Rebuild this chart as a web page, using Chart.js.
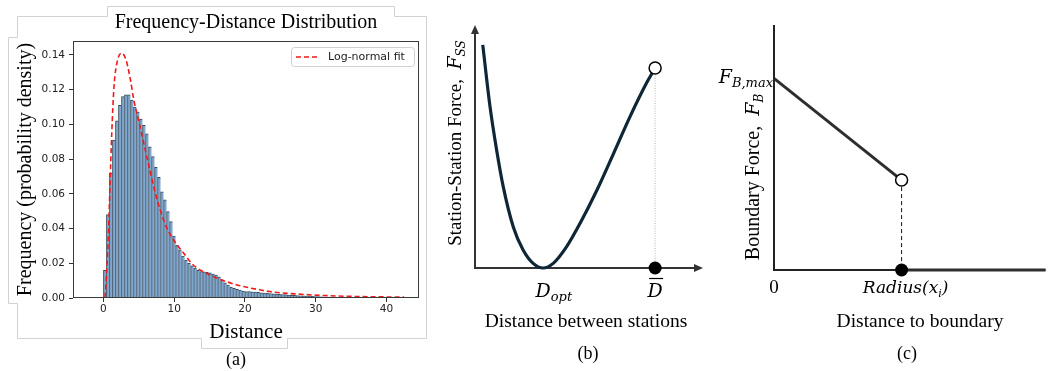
<!DOCTYPE html>
<html>
<head>
<meta charset="utf-8">
<script src="https://cdn.jsdelivr.net/npm/chart.js@4.4.0/dist/chart.umd.min.js"></script>
<style>
  html, body { margin: 0; padding: 0; background: #fff; }
  #wrap { position: relative; width: 1053px; height: 371px; overflow: hidden; }
  #wrap canvas { position: absolute; top: 0; }
  #frame { position: absolute; left: 0; top: 0; }
  .cap { position: absolute; font: 18px "Liberation Serif", serif; color: #000; transform: translate(-50%, -50%); }
</style>
</head>
<body>
<div id="wrap">
  <svg id="frame" width="440" height="371">
    <polyline points="426.5,16.5 394.5,16.5 394.5,6.5 107.5,6.5 107.5,16.5 17.5,16.5 17.5,37.5 8.5,37.5 8.5,303.5 17.5,303.5 17.5,338.5 201.5,338.5 201.5,348.5 287.5,348.5 287.5,338.5 426.5,338.5 426.5,16.5"
      fill="none" stroke="#d2d2d2" stroke-width="1"/>
  </svg>
  <canvas id="chartA" width="486" height="350" style="left:0px"></canvas>
  <canvas id="chartB" width="290" height="371" style="left:430px"></canvas>
  <canvas id="chartC" width="353" height="371" style="left:700px"></canvas>
  <div class="cap" style="left:236px;top:359px">(a)</div>
  <div class="cap" style="left:588px;top:353px">(b)</div>
  <div class="cap" style="left:907px;top:353px">(c)</div>
</div>
<script>
// ---- (a) histogram of distances, bins of width 0.425 starting at 0
const histBinWidth = 0.425;
const histHeights = [
  0.016, 0.048, 0.072, 0.091, 0.102, 0.111, 0.116, 0.117, 0.117, 0.114,
  0.110, 0.107, 0.103, 0.0995, 0.0945, 0.087, 0.0814, 0.0753, 0.0695, 0.0612,
  0.0565, 0.0497, 0.044, 0.0357, 0.0305, 0.0277, 0.0242, 0.0219, 0.020, 0.0185,
  0.0172, 0.016, 0.0152, 0.015, 0.0148, 0.0145, 0.0138, 0.0132, 0.0122, 0.0104,
  0.0088, 0.0075, 0.0063, 0.0056, 0.0050, 0.0046, 0.0040, 0.0037, 0.0037, 0.0036,
  0.0034, 0.0032, 0.0030, 0.0029, 0.0027, 0.0026, 0.0024, 0.0022, 0.0021, 0.0020,
  0.0019, 0.0017, 0.0016, 0.0015, 0.0014, 0.0013, 0.0012, 0.0011, 0.0010, 0.0009,
  0.0008, 0.0008, 0.0007, 0.0006, 0.0006, 0.0005, 0.0005, 0.0004, 0.0004, 0.0004,
  0.0003, 0.0003, 0.0003, 0.0003, 0.0002, 0.0002, 0.0002, 0.0002, 0.0002, 0.0002,
  0.0001, 0.0001, 0.0001, 0.0001, 0.0001, 0.0001, 0.0001, 0.0001, 0.0001, 0.0001
];
// log-normal fit
const fitX = [-2, 0, 0.2, 0.47, 0.7, 0.94, 1.18, 1.5, 2.0, 2.6, 3.2, 3.8, 4.3, 4.9, 5.6, 6.6, 7.3, 8.0, 9.0, 10, 11.3, 12.7, 15.1, 17.4, 19.8, 22.1, 23.5, 27.3, 32, 36.7, 42.5];
const fitY = [0, 0, 0.0005, 0.016, 0.036, 0.066, 0.095, 0.122, 0.137, 0.141, 0.137, 0.126, 0.114, 0.1035, 0.091, 0.073, 0.061, 0.051, 0.040, 0.033, 0.026, 0.019, 0.0132, 0.0094, 0.0066, 0.0047, 0.0037, 0.0023, 0.0013, 0.0008, 0.0005];
const xTicksA = [0, 10, 20, 30, 40];
const yTicksA = [0, 0.02, 0.04, 0.06, 0.08, 0.10, 0.12, 0.14];

// ---- (b) station-station force vs distance (schematic)
const bCurveX = [0.34, 0.66, 0.95, 1.24, 1.68, 2.11, 2.55, 2.99, 3.43, 4.02, 4.61, 5.35, 6.08, 6.80, 7.54, 7.90];
const bCurveY = [9.18, 6.63, 4.85, 3.34, 1.69, 0.74, 0.19, 0.00, 0.19, 0.88, 1.84, 3.21, 4.72, 6.23, 7.64, 8.23];
const bOptX = 2.99;
const bEndX = 7.90, bEndY = 8.23;

// ---- (c) boundary force vs distance (schematic)
const cMaxY = 7.82;
const cRadiusX = 4.7, cJumpY = 3.67, cEndX = 10;

const serif = '"Liberation Serif", "Times New Roman", serif';
const mathFont = '"DejaVu Serif", serif';
const sans = '"DejaVu Sans", sans-serif';

function richWidth(ctx, parts) {
  let w = 0;
  for (const p of parts) { ctx.font = p.font; w += ctx.measureText(p.t).width; }
  return w;
}
// draws mixed-font text (italic / subscripts), x,y is the baseline anchor
function drawRich(ctx, parts, x, y, rot, align) {
  ctx.save();
  ctx.translate(x, y);
  ctx.rotate(rot || 0);
  const w = richWidth(ctx, parts);
  let cx = align === 'left' ? 0 : align === 'right' ? -w : -w / 2;
  ctx.textBaseline = 'alphabetic';
  ctx.textAlign = 'left';
  ctx.fillStyle = '#000';
  for (const p of parts) {
    ctx.font = p.font;
    ctx.fillText(p.t, cx, p.dy || 0);
    cx += ctx.measureText(p.t).width;
  }
  ctx.restore();
}

// ===== (a) =====
const frameBox = {
  id: 'frameBox',
  afterDatasetsDraw(chart) {
    const {ctx, chartArea: a} = chart;
    ctx.save();
    ctx.strokeStyle = '#3a3a3a';
    ctx.lineWidth = 1;
    ctx.strokeRect(Math.round(a.left) + 0.5, Math.round(a.top) + 0.5,
      Math.round(a.right - a.left) - 1, Math.round(a.bottom - a.top) - 1);

    // legend box (top right, inside axes)
    const ds = chart.data.datasets[0];
    const bw = 123, bh = 19;
    const bx = a.right - 5 - bw, by = a.top + 6;
    ctx.fillStyle = 'rgba(255,255,255,0.85)';
    ctx.strokeStyle = '#d0d0d0';
    ctx.beginPath();
    ctx.roundRect(bx + 0.5, by + 0.5, bw, bh, 3);
    ctx.fill();
    ctx.stroke();
    ctx.strokeStyle = ds.borderColor;
    ctx.lineWidth = ds.borderWidth;
    ctx.setLineDash(ds.borderDash);
    ctx.beginPath();
    ctx.moveTo(bx + 5, by + bh / 2 + 0.5);
    ctx.lineTo(bx + 26, by + bh / 2 + 0.5);
    ctx.stroke();
    ctx.setLineDash([]);
    ctx.fillStyle = '#222';
    ctx.font = '11px ' + sans;
    ctx.textBaseline = 'middle';
    ctx.fillText(ds.label, bx + 37, by + bh / 2 + 1);
    ctx.restore();
  }
};

new Chart(document.getElementById('chartA'), {
  data: {
    datasets: [
      {
        type: 'line',
        label: 'Log-normal fit',
        data: fitX.map((x, i) => ({x: x, y: fitY[i]})),
        borderColor: '#f01a1a',
        borderWidth: 1.6,
        borderDash: [5, 3],
        pointRadius: 0,
        cubicInterpolationMode: 'monotone',
        order: 0
      },
      {
        type: 'bar',
        label: 'Distance',
        data: histHeights.map((h, i) => ({x: (i + 0.5) * histBinWidth, y: h})),
        backgroundColor: '#7fa7cd',
        borderColor: '#34485c',
        borderWidth: {left: 1, top: 1, right: 0, bottom: 0},
        borderSkipped: false,
        barPercentage: 1,
        categoryPercentage: 1,
        order: 1
      }
    ]
  },
  options: {
    responsive: false,
    animation: false,
    layout: { padding: {left: 0, right: 67, top: 0, bottom: 5} },
    plugins: {
      legend: { display: false },
      tooltip: { enabled: false },
      title: {
        display: true,
        fullSize: false,
        text: 'Frequency-Distance Distribution',
        color: '#000',
        font: { family: serif, size: 20, weight: 'normal' },
        padding: { top: 11, bottom: 6 }
      }
    },
    scales: {
      x: {
        type: 'linear',
        offset: false,
        min: -4.3, max: 44.6,
        afterBuildTicks: s => { s.ticks = xTicksA.map(v => ({value: v})); },
        afterFit: s => { s.height = 47; },
        ticks: { color: '#222', font: { family: sans, size: 10.5 }, padding: 1, maxRotation: 0 },
        grid: { display: true, offset: false, drawOnChartArea: false, drawTicks: true, tickLength: 4, color: '#333' },
        border: { display: false },
        title: { display: true, text: 'Distance', color: '#000', font: { family: serif, size: 21 }, padding: { top: 0, bottom: 0 } }
      },
      y: {
        min: 0, max: 0.148,
        afterBuildTicks: s => { s.ticks = yTicksA.map(v => ({value: v})); },
        afterFit: s => { s.width = 73; },
        ticks: { color: '#222', font: { family: sans, size: 10.5 }, padding: 4, callback: v => v.toFixed(2) },
        grid: { display: true, drawOnChartArea: false, drawTicks: true, tickLength: 4, color: '#333' },
        border: { display: false },
        title: { display: true, text: 'Frequency (probability density)', color: '#000', font: { family: serif, size: 20 }, padding: { top: 14, bottom: 0 } }
      }
    }
  },
  plugins: [frameBox]
});

// ===== shared axes for (b) and (c) =====
const plainAxes = {
  id: 'plainAxes',
  beforeDatasetsDraw(chart, args, opts) {
    const {ctx, chartArea: a} = chart;
    const ah = opts.arrow ? 8 : 0;
    ctx.save();
    ctx.strokeStyle = opts.color;
    ctx.fillStyle = opts.color;
    ctx.lineWidth = opts.width;
    ctx.beginPath();
    ctx.moveTo(a.left, a.top + ah);
    ctx.lineTo(a.left, a.bottom);
    ctx.lineTo(a.right - ah, a.bottom);
    ctx.stroke();
    if (opts.arrow) {
      ctx.beginPath();
      ctx.moveTo(a.left, a.top);
      ctx.lineTo(a.left - 4, a.top + 9);
      ctx.lineTo(a.left + 4, a.top + 9);
      ctx.closePath();
      ctx.fill();
      ctx.beginPath();
      ctx.moveTo(a.right, a.bottom);
      ctx.lineTo(a.right - 9, a.bottom - 4);
      ctx.lineTo(a.right - 9, a.bottom + 4);
      ctx.closePath();
      ctx.fill();
    }
    ctx.restore();
  }
};

const hiddenScale = (min, max) => ({ type: 'linear', display: false, min: min, max: max });

// ===== (b) =====
const labelsB = {
  id: 'labelsB',
  afterDraw(chart) {
    const {ctx, chartArea: a, scales: {x}} = chart;
    const base = a.bottom + 29;
    // D_opt under the minimum
    ctx.font = 'italic 19px ' + mathFont;
    const dW = ctx.measureText('D').width;
    const pOpt = x.getPixelForValue(bOptX);
    drawRich(ctx, [
      {t: 'D', font: 'italic 19px ' + mathFont},
      {t: 'opt', font: 'italic 13px ' + mathFont, dy: 4}
    ], pOpt - dW / 2, base, 0, 'left');
    // D bar under the end point
    const pEnd = x.getPixelForValue(bEndX);
    drawRich(ctx, [{t: 'D', font: 'italic 19px ' + mathFont}], pEnd, base, 0, 'center');
    ctx.save();
    ctx.strokeStyle = '#000';
    ctx.lineWidth = 1.2;
    ctx.beginPath();
    ctx.moveTo(pEnd - 6, base - 18.5);
    ctx.lineTo(pEnd + 8, base - 18.5);
    ctx.stroke();
    ctx.restore();
    // axis titles
    ctx.save();
    ctx.fillStyle = '#000';
    ctx.font = '19.5px ' + serif;
    ctx.textAlign = 'center';
    ctx.textBaseline = 'middle';
    ctx.fillText('Distance between stations', (a.left + a.right) / 2 - 3, 322);
    ctx.restore();
    drawRich(ctx, [
      {t: 'Station-Station Force,  ', font: '19px ' + serif},
      {t: 'F', font: 'italic 19px ' + mathFont},
      {t: 'SS', font: 'italic 12px ' + mathFont, dy: 4}
    ], 31, 143, -Math.PI / 2, 'center');
  }
};

new Chart(document.getElementById('chartB'), {
  type: 'scatter',
  data: {
    datasets: [
      {
        data: [{x: bEndX, y: bEndY}],
        pointRadius: 6, pointBackgroundColor: '#fff', pointBorderColor: '#000', pointBorderWidth: 1.5
      },
      {
        data: [{x: bEndX, y: 0}],
        pointRadius: 6.5, pointBackgroundColor: '#000', pointBorderColor: '#000', pointBorderWidth: 0
      },
      {
        data: [{x: bEndX, y: bEndY}, {x: bEndX, y: 0}],
        showLine: true, borderColor: '#b8b8b8', borderWidth: 1, borderDash: [1, 1.5], pointRadius: 0
      },
      {
        data: bCurveX.map((x, i) => ({x: x, y: bCurveY[i]})),
        showLine: true, borderColor: '#0e2636', borderWidth: 3.2, pointRadius: 0,
        cubicInterpolationMode: 'monotone'
      }
    ]
  },
  options: {
    responsive: false,
    animation: false,
    clip: false,
    layout: { padding: {left: 45, right: 17, top: 25, bottom: 103} },
    plugins: {
      legend: { display: false },
      tooltip: { enabled: false },
      plainAxes: { color: '#333', width: 2, arrow: true }
    },
    scales: { x: hiddenScale(0, 10), y: hiddenScale(0, 10) }
  },
  plugins: [plainAxes, labelsB]
});

// ===== (c) =====
const labelsC = {
  id: 'labelsC',
  afterDraw(chart) {
    const {ctx, chartArea: a, scales: {x, y}} = chart;
    const base = a.bottom + 23;
    ctx.save();
    ctx.fillStyle = '#000';
    ctx.font = '19px ' + serif;
    ctx.textAlign = 'center';
    ctx.textBaseline = 'alphabetic';
    ctx.fillText('0', x.getPixelForValue(0), base);
    ctx.font = '19.5px ' + serif;
    ctx.textBaseline = 'middle';
    ctx.fillText('Distance to boundary', 220, 322);
    ctx.restore();
    drawRich(ctx, [
      {t: 'Radius(x', font: 'italic 17px ' + mathFont},
      {t: 'i', font: 'italic 11px ' + mathFont, dy: 4},
      {t: ')', font: 'italic 17px ' + mathFont}
    ], x.getPixelForValue(cRadiusX) + 4, base, 0, 'center');
    drawRich(ctx, [
      {t: 'F', font: 'italic 19px ' + mathFont},
      {t: 'B,max', font: 'italic 13px ' + mathFont, dy: 4}
    ], a.left - 1, y.getPixelForValue(cMaxY) + 5, 0, 'right');
    drawRich(ctx, [
      {t: 'Boundary Force,  ', font: '20px ' + serif},
      {t: 'F', font: 'italic 19px ' + mathFont},
      {t: 'B', font: 'italic 12px ' + mathFont, dy: 4}
    ], 59, 177, -Math.PI / 2, 'center');
  }
};

new Chart(document.getElementById('chartC'), {
  type: 'scatter',
  data: {
    datasets: [
      {
        data: [{x: cRadiusX, y: cJumpY}],
        pointRadius: 6, pointBackgroundColor: '#fff', pointBorderColor: '#000', pointBorderWidth: 1.5
      },
      {
        data: [{x: cRadiusX, y: 0}],
        pointRadius: 6.5, pointBackgroundColor: '#000', pointBorderColor: '#000', pointBorderWidth: 0
      },
      {
        data: [{x: cRadiusX, y: cJumpY}, {x: cRadiusX, y: 0}],
        showLine: true, borderColor: '#111', borderWidth: 1, borderDash: [4, 3], pointRadius: 0
      },
      {
        data: [{x: 0, y: cMaxY}, {x: cRadiusX, y: cJumpY}],
        showLine: true, borderColor: '#2e2e2e', borderWidth: 3, pointRadius: 0
      },
      {
        data: [{x: cRadiusX, y: 0}, {x: cEndX, y: 0}],
        showLine: true, borderColor: '#2e2e2e', borderWidth: 3, pointRadius: 0
      }
    ]
  },
  options: {
    responsive: false,
    animation: false,
    clip: false,
    layout: { padding: {left: 74, right: 0, top: 25, bottom: 101} },
    plugins: {
      legend: { display: false },
      tooltip: { enabled: false },
      plainAxes: { color: '#222', width: 2, arrow: false }
    },
    scales: { x: hiddenScale(0, cEndX), y: hiddenScale(0, 10) }
  },
  plugins: [plainAxes, labelsC]
});
</script>
</body>
</html>
